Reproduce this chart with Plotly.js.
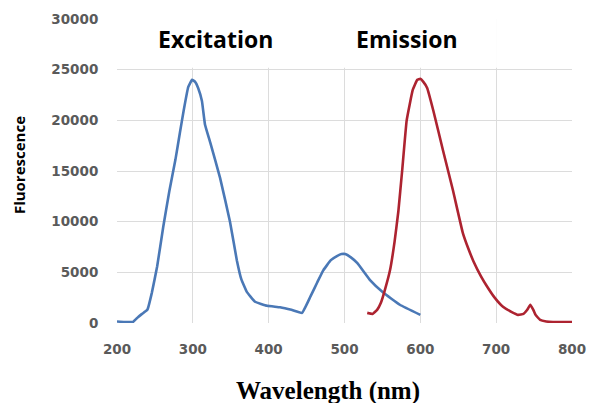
<!DOCTYPE html>
<html>
<head>
<meta charset="utf-8">
<script src="https://cdn.plot.ly/plotly-3.0.1.min.js"></script>
<style>html,body{margin:0;padding:0;background:#fff;}#chart{width:589px;height:403px;}</style>
</head>
<body>
<div id="chart"></div>
<script>
// Excitation spectrum (blue)
const excitationX = [200, 210, 221, 228, 233, 240, 246, 253, 261, 269, 277, 283, 288, 294, 299, 303, 307, 312, 316, 323, 336, 349, 358, 364, 371, 382, 398, 415, 430, 444, 455, 464, 472, 482, 490, 496, 501, 508, 517, 534, 551, 573, 600];
const excitationY = [150, 100, 100, 600, 900, 1300, 3000, 5600, 9500, 13000, 16100, 18800, 21000, 23300, 24000, 23800, 23200, 21900, 19600, 17800, 14300, 10000, 6200, 4300, 3100, 2100, 1700, 1550, 1300, 1000, 2600, 4000, 5200, 6200, 6600, 6800, 6800, 6500, 5900, 4200, 3000, 1800, 800];
// Emission spectrum (red)
const emissionX = [530, 537, 543, 548, 553, 560, 566, 571, 576, 582, 590, 596, 600, 604, 609, 617, 630, 643, 656, 663, 670, 680, 688, 698, 709, 720, 729, 736, 741, 745, 749, 752, 758, 766, 775, 800];
const emissionY = [1000, 900, 1300, 2000, 3200, 5200, 8000, 11000, 15000, 20000, 23000, 24000, 24100, 23800, 23200, 21000, 17000, 13100, 8900, 7400, 6100, 4600, 3600, 2500, 1600, 1100, 800, 900, 1300, 1800, 1300, 800, 300, 150, 100, 100];
const xTicks = [200, 300, 400, 500, 600, 700, 800];
const yTicks = [0, 5000, 10000, 15000, 20000, 25000, 30000];
const xTitle = 'Wavelength (nm)';
const yTitle = 'Fluorescence';
const labels = ['Excitation', 'Emission'];

const traces = [
  {x: excitationX, y: excitationY, type: 'scatter', mode: 'lines', name: labels[0],
   line: {color: '#4a78b6', width: 2.6, shape: 'spline', smoothing: 0.3}},
  {x: emissionX, y: emissionY, type: 'scatter', mode: 'lines', name: labels[1],
   line: {color: '#ad2330', width: 2.6, shape: 'spline', smoothing: 0.3}}
];

const tickFont = {family: 'DejaVu Sans', size: 13.5, color: '#5a5a5a', weight: 'bold'};

const layout = {
  width: 589, height: 403,
  margin: {l: 117, r: 17, t: 19, b: 80},
  paper_bgcolor: '#ffffff', plot_bgcolor: '#ffffff',
  showlegend: false,
  xaxis: {
    range: [200, 800], tickvals: xTicks, ticktext: xTicks.map(String),
    showgrid: true, gridcolor: '#dcdcdc', gridwidth: 1,
    zeroline: false, showline: false,
    ticks: 'outside', ticklen: 14, tickcolor: 'rgba(0,0,0,0)',
    tickfont: tickFont, automargin: false
  },
  yaxis: {
    range: [0, 30000], tickvals: yTicks, ticktext: yTicks.map(String),
    showgrid: true, gridcolor: '#dcdcdc', gridwidth: 1,
    zeroline: false, showline: false,
    ticks: 'outside', ticklen: 15, tickcolor: 'rgba(0,0,0,0)',
    tickfont: tickFont, automargin: false
  },
  shapes: [
    {type: 'rect', xref: 'x', yref: 'paper', x0: 221, x1: 701, y0: 0.84, y1: 1.02,
     fillcolor: '#ffffff', line: {width: 0}, layer: 'above'}
  ],
  annotations: [
    {text: labels[0], xref: 'x', yref: 'paper', x: 330, y: 0.935, yanchor: 'middle', xanchor: 'center', showarrow: false,
     font: {family: 'Open Sans', size: 23, color: '#000', weight: 'bold'}},
    {text: labels[1], xref: 'x', yref: 'paper', x: 583, y: 0.935, yanchor: 'middle', xanchor: 'center', showarrow: false,
     font: {family: 'Open Sans', size: 23, color: '#000', weight: 'bold'}},
    {text: xTitle, xref: 'paper', yref: 'paper', x: 0.463, y: -0.17, yanchor: 'top', xanchor: 'center', showarrow: false,
     font: {family: 'Liberation Serif', size: 25, color: '#000', weight: 'bold'}},
    {text: yTitle, xref: 'paper', yref: 'paper', x: -0.215, y: 0.52, textangle: -90, xanchor: 'center', yanchor: 'middle', showarrow: false,
     font: {family: 'Open Sans', size: 15, color: '#000', weight: 'bold'}}
  ]
};

Plotly.newPlot('chart', traces, layout, {displayModeBar: false, staticPlot: true});
</script>
</body>
</html>
